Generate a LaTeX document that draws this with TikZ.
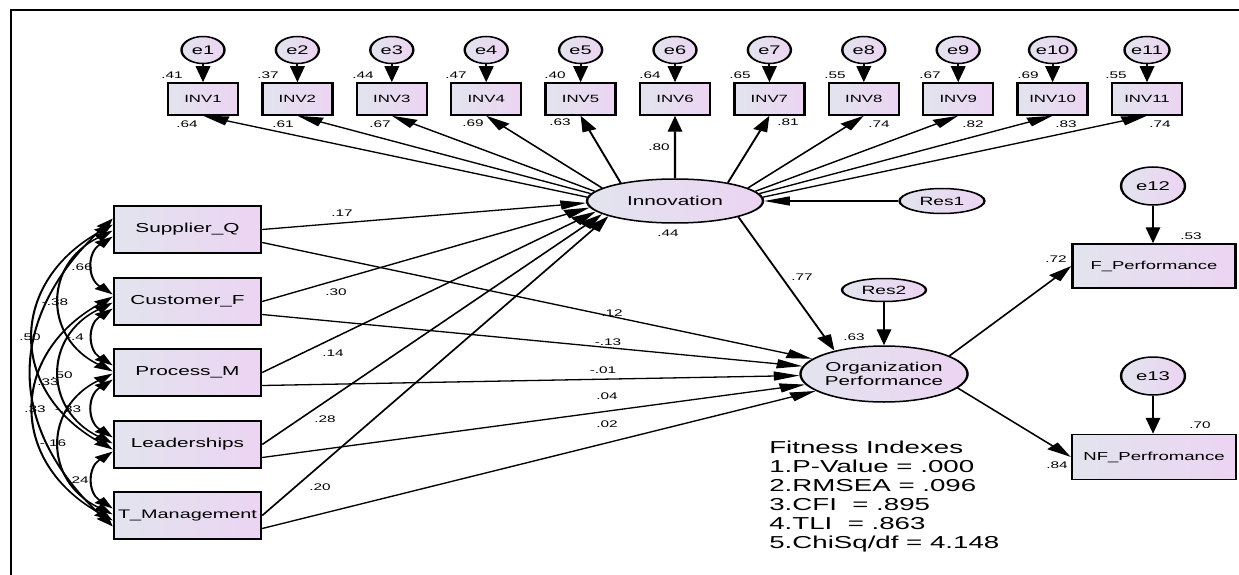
\documentclass[tikz,border=0pt]{standalone}
\usepackage{fontspec}
\setmainfont{Liberation Sans}
\usetikzlibrary{shapes.geometric,arrows.meta}
\definecolor{cl}{RGB}{226,228,238}
\definecolor{cr}{RGB}{236,212,242}
\tikzset{
 obs/.style={draw, line width=1.5pt, rectangle, inner sep=0pt, left color=cl, right color=cr},
 lat/.style={draw, line width=1.5pt, ellipse, inner sep=0pt, left color=cl, right color=cr},
 num/.style={font=\fontsize{9.6}{10}\selectfont, inner sep=0pt},
 arr/.style={-{Triangle[length=16pt,width=9pt]}, line width=1.3pt},
 cov/.style={{Triangle[length=12pt,width=8pt]}-{Triangle[length=12pt,width=8pt]}, line width=1.3pt},
}
\begin{document}
\begin{tikzpicture}[x=1pt,y=-1pt]
\useasboundingbox (0,0) rectangle (1239,575);
\draw[line width=1.8pt] (11,600) -- (11,10) -- (1260,10);
\begin{scope}[transform canvas={xscale=1.6}, x=0.625pt, y=-1pt]
% latent variables
\node[lat, minimum width=110pt, minimum height=44pt, font=\fontsize{13}{15}\selectfont] (inn) at (675,201) {Innovation};
\node[lat, minimum width=53.1pt, minimum height=25pt, font=\fontsize{12}{14}\selectfont] (res1) at (942,201) {Res1};
\node[lat, minimum width=52.5pt, minimum height=23pt, font=\fontsize{12}{14}\selectfont] (res2) at (884,290) {Res2};
\node[lat, minimum width=103pt, minimum height=56pt, align=center, font=\fontsize{12.9}{14}\selectfont] (org) at (884,374) {Organization\\Performance};
% indicators of innovation
\foreach \i/\up/\ux/\lo/\lx/\ly in {1/.41/172/.64/187/124, 2/.37/268/.61/283/124, 3/.44/363/.67/380/124, 4/.47/456/.69/473/123, 5/.40/555/.63/560/122, 6/.64/650/.80/659/147, 7/.65/740/.81/788/122, 8/.55/835/.74/879/124, 9/.67/930/.82/973/124, 10/.69/1028/.83/1066/124, 11/.55/1116/.74/1160/124} {
 \pgfmathsetmacro\xx{203+94.4*(\i-1)}
 \node[lat, minimum width=26.9pt, minimum height=27pt, font=\fontsize{12.5}{14}\selectfont] (e\i) at (\xx,50) {e\i};
 \node[obs, minimum width=43.75pt, minimum height=32pt, font=\fontsize{10.5}{12}\selectfont] (inv\i) at (\xx,99) {INV\i};
 \draw[arr] (e\i) -- (inv\i);
 \node[num] at (\ux,75) {\up};
 \node[num] at (\lx,\ly) {\lo};
}
\foreach \i/\a in {1/176,2/172,3/169,4/164,5/152,6/90,7/29,8/16,9/11,10/8,11/4}
 \draw[arr] (inn.\a) -- (inv\i.south);
% exogenous boxes
\node[obs, minimum width=91.9pt, minimum height=47pt, font=\fontsize{13}{15}\selectfont] (sq) at (187.5,229.5) {Supplier\_Q};
\node[obs, minimum width=91.9pt, minimum height=47pt, font=\fontsize{13}{15}\selectfont] (cf) at (187.5,301.5) {Customer\_F};
\node[obs, minimum width=91.9pt, minimum height=47pt, font=\fontsize{13}{15}\selectfont] (pm) at (187.5,372.5) {Process\_M};
\node[obs, minimum width=91.9pt, minimum height=47pt, font=\fontsize{13}{15}\selectfont] (ld) at (187.5,444.5) {Leaderships};
\node[obs, minimum width=91.9pt, minimum height=47pt, font=\fontsize{12.4}{15}\selectfont] (tm) at (187.5,515.5) {T\_Management};
% outcome boxes
\node[obs, minimum width=101.9pt, minimum height=44pt, font=\fontsize{11.5}{13}\selectfont] (fp) at (1154,266) {F\_Performance};
\node[obs, minimum width=102.5pt, minimum height=45pt, font=\fontsize{11.6}{13}\selectfont] (nf) at (1154,457) {NF\_Perfromance};
\node[lat, minimum width=40pt, minimum height=38pt, font=\fontsize{12.7}{14}\selectfont] (e12) at (1153,186) {e12};
\node[lat, minimum width=40pt, minimum height=38pt, font=\fontsize{12.7}{14}\selectfont] (e13) at (1153,376) {e13};
% structural paths
\draw[arr] (sq.east) -- (inn.182);
\draw[arr] (cf.east) -- (inn.187);
\draw[arr] (pm.east) -- (inn.192);
\draw[arr] (ld.east) -- (inn.196);
\draw[arr] (tm.east) -- (inn.200);
\draw[arr] ([yshift=-13pt]sq.east) -- (org);
\draw[arr] ([yshift=-13pt]cf.east) -- (org);
\draw[arr] ([yshift=-13pt]pm.east) -- (org);
\draw[arr] ([yshift=-13pt]ld.east) -- (org);
\draw[arr] ([yshift=-13pt]tm.east) -- (org);
\draw[arr] (res1) -- (inn);
\draw[arr] (res2) -- (org);
\draw[arr] (inn.-22) -- (org.143);
\draw[arr] (org.24) -- (fp.west);
\draw[arr] (org.-17) -- (nf.west);
\draw[arr] (e12) -- (e12 |- fp.north);
\draw[arr] (e13) -- (e13 |- nf.north);
% covariances
\foreach \a/\b/\g/\ang in {sq/cf/1/45, cf/pm/1/45, pm/ld/1/45, ld/tm/1/45, sq/pm/2/52, cf/ld/2/52, pm/tm/2/52, sq/ld/3/48, cf/tm/3/48, sq/tm/4/34} {
 \pgfmathsetmacro\su{-13+6*\g}
 \pgfmathsetmacro\sl{13-6*\g}
 \draw[cov] ([yshift=\su pt]\a.west) to[bend right=\ang] ([yshift=\sl pt]\b.west);
}
% labels
\node[num] at (668,233) {.44};
\node[num] at (802,277) {.77};
\node[num] at (854,337) {.63};
\node[num] at (1056,259) {.72};
\node[num] at (1191,236) {.53};
\node[num] at (1200,425) {.70};
\node[num] at (1057,465) {.84};
\node[num] at (342,213) {.17};
\node[num] at (336,292) {.30};
\node[num] at (333,353) {.14};
\node[num] at (325,419) {.28};
\node[num] at (320,487) {.20};
\node[num] at (612,313) {.12};
\node[num] at (608,342) {-.13};
\node[num] at (603,370) {-.01};
\node[num] at (607,396) {.04};
\node[num] at (607,424) {.02};
\node[num] at (82,267) {.66};
\node[num] at (55,302) {-.38};
\node[num] at (30,337) {.50};
\node[num] at (75,337) {-.4};
\node[num] at (62,375) {.50};
\node[num] at (48,382) {.33};
\node[num] at (35,409) {.33};
\node[num] at (68,409) {-.33};
\node[num] at (53,443) {-.16};
\node[num] at (78,480) {.24};
% fit indexes
\node[anchor=north west, inner sep=0pt, align=left, font=\fontsize{17.3}{19}\selectfont] (fit) at (769,440.5) {Fitness Indexes\\1.P-Value = .000\\2.RMSEA = .096\\3.CFI\ \ = .895\\4.TLI\ \ = .863\\5.ChiSq/df = 4.148};
\end{scope}
\end{tikzpicture}
\end{document}
